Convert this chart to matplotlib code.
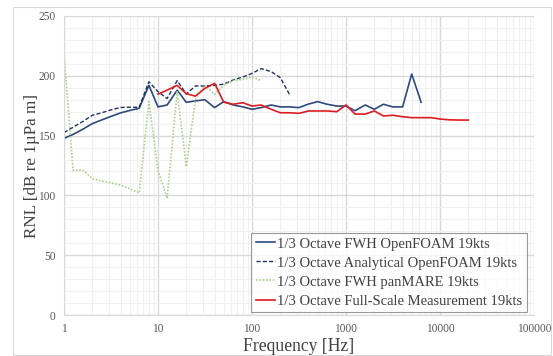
import matplotlib
matplotlib.use("Agg")
import matplotlib.pyplot as plt
from matplotlib.patches import Rectangle
from matplotlib.ticker import LogLocator, MultipleLocator, NullFormatter, FuncFormatter

# 1/3 octave band centre frequencies (Hz)
bands = [1, 1.25, 1.6, 2, 2.5, 3.15, 4, 5, 6.3, 8, 10, 12.5, 16, 20, 25, 31.5, 40,
         50, 63, 80, 100, 125, 160, 200, 250, 315, 400, 500, 630, 800, 1000,
         1250, 1600, 2000, 2500, 3150, 4000, 5000, 6300, 8000, 10000, 12500,
         16000, 20000]

fwh_openfoam = [147.7, 151, 155.5, 160, 163, 166, 169, 171, 172.8, 192, 174, 175.6,
                188, 177.8, 179, 180, 173.4, 178.4, 175.6, 174, 172, 173.4, 175.6,
                174, 174, 173.4, 176.4, 178.4, 176.2, 174.7, 174.7, 170.8, 175.6,
                172, 176.2, 174, 174, 201.5, 177.8]
analytical_openfoam = [152.5, 157, 162, 167, 169, 171.5, 173.5, 173.7, 173.7, 195,
                       186.7, 181, 196, 184.7, 191.5, 191.5, 192, 193, 196.5, 199,
                       202, 206, 203.5, 198.5, 184.5]
fwh_panmare = [218.8, 121, 121, 114, 112, 110.5, 108.7, 105.5, 102, 178.4, 121, 97.5,
               186.7, 124, 180, 192, 184.5, 192, 196, 197, 199, 196]
full_scale = [184.7, 188, 192, 185, 183, 189.5, 193.7, 178, 176.2, 177.5, 174.7,
              175.6, 172, 169.1, 169.1, 168.6, 170.6, 170.6, 170.6, 170, 175.6, 168,
              168, 170.6, 166.4, 167, 165.8, 165, 165, 165, 163.9, 163.2, 163, 163]

labels = ["1/3 Octave FWH OpenFOAM 19kts",
          "1/3 Octave Analytical OpenFOAM 19kts",
          "1/3 Octave FWH panMARE 19kts",
          "1/3 Octave Full-Scale Measurement 19kts"]

plt.rcParams["font.family"] = ["Liberation Serif", "DejaVu Serif"]

fig = plt.figure(figsize=(5.53, 3.56), dpi=100)
ax = fig.add_axes([64 / 553, 1 - 315 / 356, 470 / 553, 299 / 356])
fig.patches.append(Rectangle((13 / 553, 1 / 356), 538 / 553, 348 / 356,
                             transform=fig.transFigure, fill=False,
                             ec="#d9d9d9", lw=0.8))

ax.plot(bands[:len(fwh_openfoam)], fwh_openfoam, color="#2f4a7a", lw=1.2, label=labels[0])
ax.plot(bands[:len(analytical_openfoam)], analytical_openfoam, color="#1f3360", lw=1.0,
        ls=(0, (3, 1.5)), label=labels[1])
ax.plot(bands[:len(fwh_panmare)], fwh_panmare, color="#a9d18e", lw=1.2,
        ls=(0, (1, 1)), label=labels[2])
ax.plot(bands[10:10 + len(full_scale)], full_scale, color="#dc1c22", lw=1.2, label=labels[3])

ax.set_xscale("log")
ax.set_xlim(1, 100000)
ax.set_ylim(0, 250)
ax.yaxis.set_major_locator(MultipleLocator(50))
ax.yaxis.set_minor_locator(MultipleLocator(10))
ax.xaxis.set_major_locator(LogLocator(base=10, numticks=10))
ax.xaxis.set_minor_locator(LogLocator(base=10, subs=range(2, 10), numticks=20))
ax.xaxis.set_minor_formatter(NullFormatter())
ax.xaxis.set_major_formatter(FuncFormatter(lambda v, p: f"{v:g}" if v < 1e5 else "100000"))

ax.grid(True, which="major", color="#d9d9d9", lw=1.0)
ax.grid(True, which="minor", color="#f0f0f0", lw=0.8)
ax.set_axisbelow(True)
for s in ["top", "right"]:
    ax.spines[s].set_visible(False)
for s in ["left", "bottom"]:
    ax.spines[s].set_color("#d9d9d9")
ax.tick_params(which="both", length=0, labelsize=8.3, colors="#595959", pad=6)

ax.set_xlabel("Frequency [Hz]", fontsize=12.7, color="#404040", labelpad=2)
ax.set_ylabel("RNL [dB re 1µPa m]", fontsize=12.3, color="#404040", labelpad=-1)

leg = ax.legend(loc="lower right", bbox_to_anchor=(0.985, 0.01), fontsize=10.5,
                frameon=True, fancybox=False, edgecolor="#808080",
                handlelength=1.3, handletextpad=0.2, borderpad=0.3,
                labelspacing=0.4, borderaxespad=0)
leg.get_frame().set_linewidth(0.8)
for t in leg.get_texts():
    t.set_color("#404040")

fig.savefig("out.png", dpi=100)
